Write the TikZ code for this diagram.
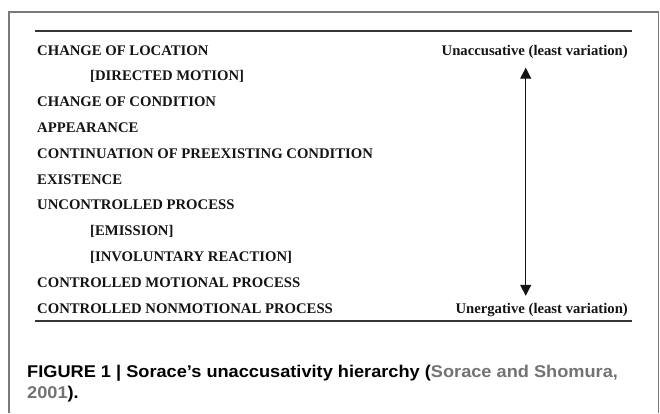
\documentclass[tikz,border=0pt]{standalone}
\usepackage{fontspec}
\setmainfont{Liberation Serif}
\setsansfont{Liberation Sans}
\newfontfamily\capfont[FakeStretch=1.07]{Liberation Sans}
\usetikzlibrary{positioning,arrows.meta}
\definecolor{inkgray}{HTML}{141414}
\definecolor{framegray}{HTML}{7A7A7A}
\definecolor{citegray}{HTML}{737373}

\begin{document}
\begin{tikzpicture}[
    x=1pt, y=1pt,
    row/.style={inner sep=0pt, text height=11pt, text depth=3.5pt, font=\fontsize{14.7}{17}\selectfont\bfseries, text=inkgray},
    side/.style={row, anchor=base east},
    rule/.style={line width=1.4pt, inkgray!85},
    arrow/.style={{Triangle[length=11pt,width=11pt]}-{Triangle[length=11pt,width=11pt]}, line width=1.1pt, inkgray},
    caption/.style={inner sep=0pt, align=left, font=\capfont\bfseries\fontsize{17}{21}\selectfont, text=black}
]
    \useasboundingbox (0,0) rectangle (660,-413);
    % open frame round the figure
    \draw[draw=framegray, line width=1.6pt] (9,-413) -- (9,-12) -- (658.5,-12) -- (658.5,-413);

    % rules above and below the table
    \draw[rule] (35,-31) -- (632,-31);
    \draw[rule] (35,-321) -- (632,-321);

    \node[row, anchor=base west] (loc) at (37,-55) {CHANGE OF LOCATION};
    \node[row, below right=10.9pt and 53pt of loc.south west] (motion) {[DIRECTED MOTION]};
    \node[row, below right=10.9pt and -53pt of motion.south west] (cond) {CHANGE OF CONDITION};
    \node[row, below right=10.9pt and 0pt of cond.south west] (appear) {APPEARANCE};
    \node[row, below right=10.9pt and 0pt of appear.south west] (contin) {CONTINUATION OF PREEXISTING CONDITION};
    \node[row, below right=10.9pt and 0pt of contin.south west] (exist) {EXISTENCE};
    \node[row, below right=10.9pt and 0pt of exist.south west] (uncont) {UNCONTROLLED PROCESS};
    \node[row, below right=10.9pt and 53pt of uncont.south west] (emis) {[EMISSION]};
    \node[row, below right=10.9pt and 0pt of emis.south west] (invol) {[INVOLUNTARY REACTION]};
    \node[row, below right=10.9pt and -53pt of invol.south west] (motional) {CONTROLLED MOTIONAL PROCESS};
    \node[row, below right=10.9pt and 0pt of motional.south west] (nonmot) {CONTROLLED NONMOTIONAL PROCESS};

    \node[side] (unacc) at (628,-55) {Unaccusative (least variation)};
    \node[side] (unerg) at (unacc.base east |- nonmot.base) {Unergative (least variation)};

    \draw[arrow] ([xshift=-9pt,yshift=-9pt]unacc.south) -- ([xshift=-9pt,yshift=6pt]unacc.south |- unerg.north);

    \node[caption, anchor=base west] (cap) at (27,-398) {FIGURE 1 | Sorace’s unaccusativity hierarchy (\textcolor{citegray}{Sorace and Shomura,}\\\textcolor{citegray}{2001}).};
\end{tikzpicture}
\end{document}
